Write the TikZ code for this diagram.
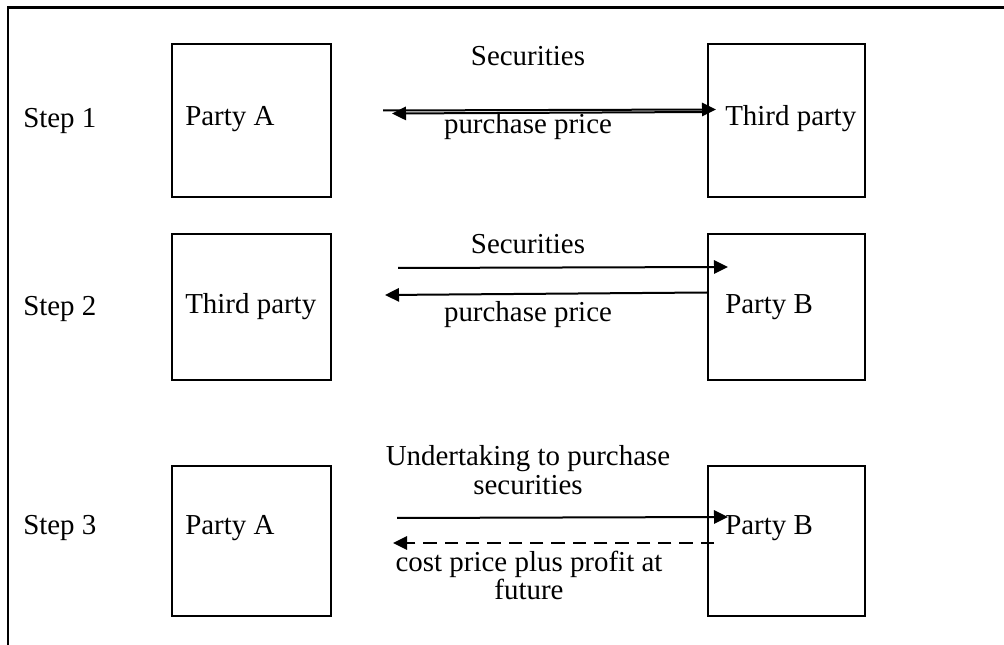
\documentclass[tikz,border=0pt]{standalone}
\usepackage{fontspec}
\setmainfont{Liberation Serif}
\usetikzlibrary{arrows.meta}
\begin{document}
\begin{tikzpicture}[x=0.75pt,y=-0.75pt,
  every node/.style={font=\fontsize{21.7}{25}\selectfont,inner sep=0pt},
  partybox/.style={draw,line width=1.7pt,minimum width=159*0.75pt,anchor=north west},
  lbl/.style={anchor=mid west},
  ctr/.style={anchor=mid},
  flow/.style={line width=1.5pt,-{Triangle[length=10.5pt,width=10pt]}},
  frame/.style={line width=1.8pt}]
\useasboundingbox (0,0) rectangle (1004,645);
% outer frame (open at right and bottom)
\coordinate (fa) at (8,645);
\coordinate (fb) at (8,7.5);
\coordinate (fc) at (1004,7.5);
\draw[frame] (fa) -- (fb) -- (fc);
% boxes
\node[partybox,minimum height=153*0.75pt] (b1l) at (171,43) {};
\node[partybox,minimum height=153*0.75pt,minimum width=157*0.75pt] (b1r) at (707,43) {};
\node[partybox,minimum height=146*0.75pt] (b2l) at (171,233) {};
\node[partybox,minimum height=146*0.75pt,minimum width=157*0.75pt] (b2r) at (707,233) {};
\node[partybox,minimum height=150*0.75pt] (b3l) at (171,465) {};
\node[partybox,minimum height=150*0.75pt,minimum width=157*0.75pt] (b3r) at (707,465) {};
% step labels
\node[lbl] (s1) at (23,124) {Step 1};
\node[lbl] (s2) at (23,312) {Step 2};
\node[lbl] (s3) at (23,531) {Step 3};
% party labels
\node[lbl] (p1l) at (185,122) {Party A};
\node[lbl] (p1r) at (725,122) {Third party};
\node[lbl] (p2l) at (185,310) {Third party};
\node[lbl] (p2r) at (725,310) {Party B};
\node[lbl] (p3l) at (185,531) {Party A};
\node[lbl] (p3r) at (725,531) {Party B};
% flow labels
\node[ctr] (t1a) at (528,62) {Securities};
\node[ctr] (t1b) at (528,130) {purchase price};
\node[ctr] (t2a) at (528,250) {Securities};
\node[ctr] (t2b) at (528,318) {purchase price};
\node[ctr] (t3a) at (528,462) {Undertaking to purchase};
\node[ctr] (t3b) at (528,491) {securities};
\node[ctr] (t3c) at (529,568) {cost price plus profit at};
\node[ctr] (t3d) at (529,596) {future};
% arrow end points
\coordinate (a1s) at (383,110.5);
\coordinate (a1e) at (716,109.5);
\coordinate (c1s) at (708,112);
\coordinate (c1e) at (392,113.5);
\coordinate (a2s) at (398,268);
\coordinate (a2e) at (728,267);
\coordinate (c2s) at (707,292.5);
\coordinate (c2e) at (385,295);
\coordinate (a3s) at (397,518);
\coordinate (a3e) at (728,517);
\coordinate (c3s) at (714,543);
\coordinate (c3e) at (393,543);
% arrows
\draw[flow] (a1s) -- (a1e);
\draw[flow] (c1s) -- (c1e);
\draw[flow] (a2s) -- (a2e);
\draw[flow] (c2s) -- (c2e);
\draw[flow] (a3s) -- (a3e);
\draw[flow,dash pattern=on 10pt off 6pt] (c3s) -- (c3e);
\end{tikzpicture}
\end{document}
